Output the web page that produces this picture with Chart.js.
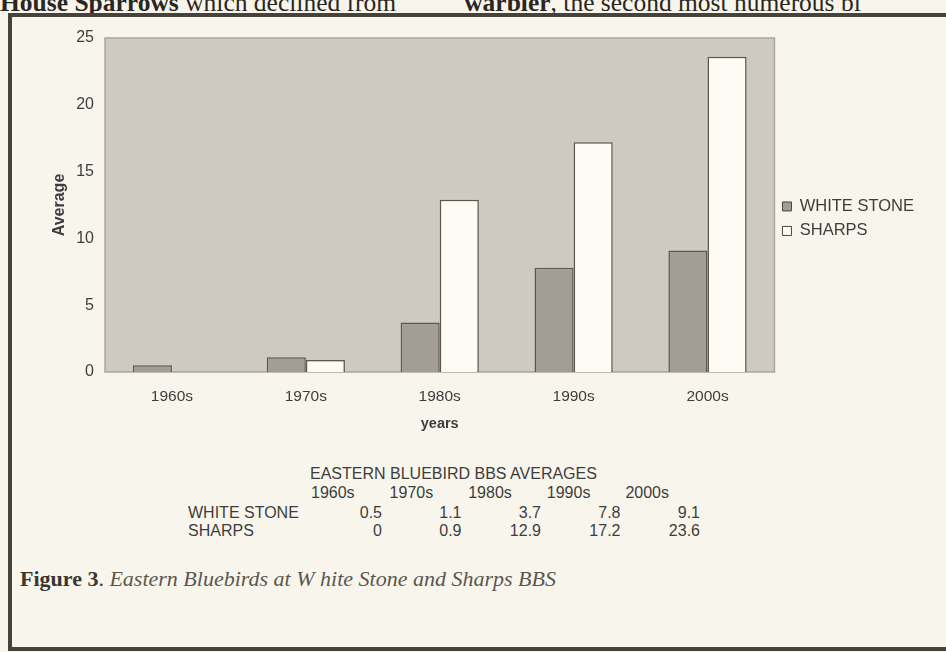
<!DOCTYPE html>
<html>
<head>
<meta charset="utf-8">
<script src="https://cdn.jsdelivr.net/npm/chart.js@4"></script>
<style>
  body { margin: 0; background: #f8f6ec; width: 946px; height: 652px; overflow: hidden; position: relative; font-family: "Liberation Sans", Arial, sans-serif; }
  #topText { position: absolute; left: 0; top: -12px; font-family: "Liberation Serif", serif; font-size: 25.5px; color: #2a2622; white-space: nowrap; }
  #frame { position: absolute; left: 8px; top: 13px; width: 960px; height: 630px; border-top: 4px solid #47423c; border-left: 4px solid #47423c; border-bottom: 4px solid #47423c; }
  #wrap { position: absolute; left: 0; top: 0; width: 946px; height: 445px; }
  .cell { position: absolute; font-size: 16px; color: #3d3d3d; white-space: nowrap; }
  #caption { position: absolute; left: 20px; top: 566px; font-family: "Liberation Serif", serif; font-size: 22px; color: #3a3631; white-space: nowrap; }
  #caption i { color: #5a5650; }
</style>
</head>
<body>
<div id="topText"><b>House Sparrows</b> which declined from<span style="display:inline-block;width:68px"></span><b>warbler</b>, the second most numerous bi</div>
<div id="frame"></div>
<div id="wrap"><canvas id="chart"></canvas></div>
<div id="table"></div>
<div id="caption"><b>Figure 3</b>. <i>Eastern Bluebirds at W hite Stone and Sharps BBS</i></div>
<script>
// Dados do gráfico
var decades = ['1960s', '1970s', '1980s', '1990s', '2000s'];
var whiteStone = [0.5, 1.1, 3.7, 7.8, 9.1];
var sharps = [0, 0.9, 12.9, 17.2, 23.6];
var yTicks = [0, 5, 10, 15, 20, 25];
var tableTitle = 'EASTERN BLUEBIRD BBS AVERAGES';

var FONT = '"Liberation Sans", Arial, sans-serif';

// Fundo da área do gráfico
var plotBackground = {
  id: 'plotBackground',
  beforeDraw: function(chart) {
    var a = chart.chartArea;
    var ctx = chart.ctx;
    ctx.save();
    ctx.fillStyle = '#cfcac1';
    ctx.fillRect(a.left, a.top, a.right - a.left, a.bottom - a.top);
    ctx.strokeStyle = '#aaa59d';
    ctx.lineWidth = 1.5;
    ctx.strokeRect(a.left, a.top, a.right - a.left, a.bottom - a.top);
    ctx.restore();
  }
};

var ctx = document.getElementById('chart').getContext('2d');
var chart = new Chart(ctx, {
  type: 'bar',
  data: {
    labels: decades,
    datasets: [{
      label: 'WHITE STONE',
      data: whiteStone,
      backgroundColor: '#a39d95',
      borderColor: '#5c5750',
      borderWidth: 1.5,
      categoryPercentage: 0.584,
      barPercentage: 1
    }, {
      label: 'SHARPS',
      data: sharps,
      backgroundColor: '#fdfbf3',
      borderColor: '#5c5750',
      borderWidth: 1.5,
      categoryPercentage: 0.584,
      barPercentage: 1
    }]
  },
  options: {
    responsive: true,
    maintainAspectRatio: false,
    animation: false,
    layout: { padding: { top: 38, right: 22, bottom: 12, left: 0 } },
    plugins: {
      legend: {
        position: 'right',
        align: 'start',
        title: { display: true, text: ' ', font: { size: 6 }, padding: { top: 0, bottom: 145 } },
        labels: {
          boxWidth: 9,
          boxHeight: 9,
          padding: 8,
          color: '#3d3d3d',
          font: { family: FONT, size: 16.5 },
          generateLabels: function(chart) {
            return chart.data.datasets.map(function(ds, i) {
              return {
                text: ds.label,
                fillStyle: ds.backgroundColor,
                strokeStyle: '#4a453f',
                lineWidth: 1,
                fontColor: '#3d3d3d',
                datasetIndex: i
              };
            });
          }
        }
      },
      tooltip: { enabled: false }
    },
    scales: {
      x: {
        afterFit: function(scale) { scale.height = 61; },
        grid: { display: false, drawTicks: false },
        border: { display: false },
        ticks: {
          color: '#3d3d3d',
          padding: 15,
          font: { family: FONT, size: 15.5 }
        },
        title: {
          display: true,
          text: 'years',
          color: '#3d3d3d',
          padding: { top: 9, bottom: 0 },
          font: { family: FONT, size: 14.5, weight: 'bold' }
        }
      },
      y: {
        min: 0,
        max: 25,
        afterFit: function(scale) { scale.width = 105; },
        afterBuildTicks: function(scale) {
          scale.ticks = yTicks.map(function(v) { return { value: v }; });
        },
        grid: { display: false, drawTicks: false },
        border: { display: false },
        ticks: {
          color: '#3d3d3d',
          padding: 11,
          font: { family: FONT, size: 16 }
        },
        title: {
          display: true,
          text: 'Average',
          color: '#3d3d3d',
          padding: { top: 50, bottom: 0 },
          font: { family: FONT, size: 16, weight: 'bold' }
        }
      }
    }
  },
  plugins: [plotBackground]
});

// Tabela de médias abaixo do gráfico
function addCell(text, left, top, alignRight) {
  var el = document.createElement('div');
  el.className = 'cell';
  el.textContent = text;
  el.style.top = top + 'px';
  if (alignRight) {
    el.style.right = (946 - left) + 'px';
  } else {
    el.style.left = left + 'px';
  }
  document.getElementById('table').appendChild(el);
}

addCell(tableTitle, 310, 465, false);
decades.forEach(function(d, i) {
  addCell(d, 311 + i * 78.6, 484, false);
});
addCell('WHITE STONE', 188, 504, false);
addCell('SHARPS', 188, 522, false);
whiteStone.forEach(function(v, i) {
  addCell(String(v), 382 + i * 79.5, 504, true);
});
sharps.forEach(function(v, i) {
  addCell(String(v), 382 + i * 79.5, 522, true);
});
</script>
</body>
</html>
